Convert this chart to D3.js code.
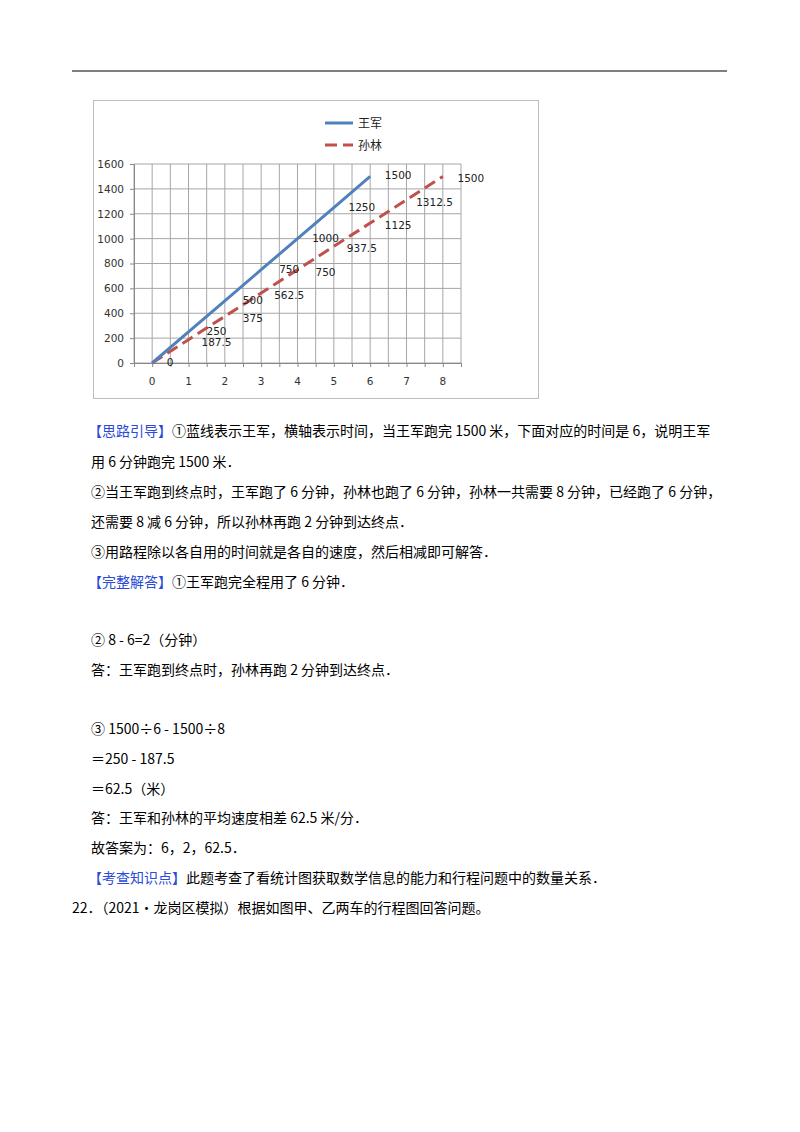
<!DOCTYPE html>
<html><head><meta charset="utf-8">
<script src="https://cdn.jsdelivr.net/npm/d3@7"></script>
<style>body{margin:0;background:#fff}</style>
</head><body><div id="page"></div>
<script>
// ── Data ──────────────────────────────────────────────
const wangTime = [0, 1, 2, 3, 4, 5, 6];
const wangDist = [0, 250, 500, 750, 1000, 1250, 1500];
const sunTime  = [0, 1, 2, 3, 4, 5, 6, 7, 8];
const sunDist  = [0, 187.5, 375, 562.5, 750, 937.5, 1125, 1312.5, 1500];
const xTicks = [0, 1, 2, 3, 4, 5, 6, 7, 8];
const yTicks = [0, 200, 400, 600, 800, 1000, 1200, 1400, 1600];
const seriesNames = ['王军', '孙林'];

const lines = [
  [{t:'【思路引导】', c:'#2a4bd7'}, {t:'①蓝线表示王军，横轴表示时间，当王军跑完 1500 米，下面对应的时间是 6，说明王军'}],
  [{t:'用 6 分钟跑完 1500 米．'}],
  [{t:'②当王军跑到终点时，王军跑了 6 分钟，孙林也跑了 6 分钟，孙林一共需要 8 分钟，已经跑了 6 分钟，'}],
  [{t:'还需要 8 减 6 分钟，所以孙林再跑 2 分钟到达终点．'}],
  [{t:'③用路程除以各自用的时间就是各自的速度，然后相减即可解答．'}],
  [{t:'【完整解答】', c:'#2a4bd7'}, {t:'①王军跑完全程用了 6 分钟．'}],
  [{t:'② 8 - 6=2（分钟）'}],
  [{t:'答：王军跑到终点时，孙林再跑 2 分钟到达终点．'}],
  [{t:'③ 1500÷6 - 1500÷8'}],
  [{t:'＝250 - 187.5'}],
  [{t:'＝62.5（米）'}],
  [{t:'答：王军和孙林的平均速度相差 62.5 米/分．'}],
  [{t:'故答案为：6，2，62.5．'}],
  [{t:'【考查知识点】', c:'#2a4bd7'}, {t:'此题考查了看统计图获取数学信息的能力和行程问题中的数量关系．'}],
  [{t:'22．（2021•龙岗区模拟）根据如图甲、乙两车的行程图回答问题。'}],
];
const lineY = [436, 467, 497, 527, 557, 587, 645, 675, 734, 764, 794, 823, 853, 883, 913];
const lineX = [88, 91, 91, 91, 91, 88, 91, 91, 91, 91, 91, 91, 91, 88, 72];

const svg = d3.select('#page').append('svg').attr('width', 800).attr('height', 1132);

svg.append('line').attr('x1', 72).attr('x2', 727).attr('y1', 71).attr('y2', 71)
  .attr('stroke', '#000').attr('stroke-width', 1.2);

// chart frame
svg.append('rect').attr('x', 93.5).attr('y', 100.5).attr('width', 445).attr('height', 298)
  .attr('fill', '#fff').attr('stroke', '#bdbdbd');

const x = d3.scaleLinear().domain([-0.5, 8.5]).range([134, 461]);
const y = d3.scaleLinear().domain([0, 1600]).range([363, 164]);

const g = svg.append('g');
const grid = d3.range(-0.5, 8.51, 0.5);
g.selectAll('.vg').data(grid).enter().append('line')
  .attr('x1', d => x(d)).attr('x2', d => x(d)).attr('y1', y(1600)).attr('y2', y(0))
  .attr('stroke', '#a6a6a6');
g.selectAll('.hg').data(yTicks).enter().append('line')
  .attr('x1', x(-0.5)).attr('x2', x(8.5)).attr('y1', d => y(d)).attr('y2', d => y(d))
  .attr('stroke', '#a6a6a6');

const xa = g.append('g').attr('transform', `translate(0,${y(0)})`)
  .call(d3.axisBottom(x).tickValues(grid).tickSize(4).tickFormat(''));
xa.selectAll('line, path').attr('stroke', '#888');
g.selectAll('.xl').data(xTicks).enter().append('text')
  .attr('x', d => x(d)).attr('y', 385).attr('text-anchor', 'middle')
  .attr('font-family', 'DejaVu Sans').attr('font-size', 10.5).attr('fill', '#333').text(d => d);
const ya = g.append('g').attr('transform', `translate(${x(-0.5)},0)`)
  .call(d3.axisLeft(y).tickValues(yTicks).tickSize(4).tickPadding(6).tickFormat(d3.format('d')));
ya.selectAll('line, path').attr('stroke', '#888');
ya.selectAll('text').attr('font-family', 'DejaVu Sans').attr('font-size', 10.5).attr('fill', '#333');

const line = d3.line().x(d => x(d[0])).y(d => y(d[1]));
const wang = wangTime.map((t, i) => [t, wangDist[i]]);
const sun = sunTime.map((t, i) => [t, sunDist[i]]);
g.append('path').attr('d', line(sun)).attr('fill', 'none').attr('stroke', '#c0504d')
  .attr('stroke-width', 3).attr('stroke-dasharray', '12,6');
g.append('path').attr('d', line(wang)).attr('fill', 'none').attr('stroke', '#4f81bd')
  .attr('stroke-width', 3);

const lbl = (data, dy) => g.selectAll(null).data(data).enter().append('text')
  .attr('x', d => x(d[0]) + (d[0] === 0 ? 18 : 28)).attr('y', d => y(d[1]) + dy)
  .attr('text-anchor', 'middle').attr('font-family', 'DejaVu Sans').attr('font-size', 10.5)
  .attr('fill', '#222').text(d => d[1]);
lbl(wang, 3); lbl(sun.slice(1), 6);

// legend
const lg = svg.append('g');
[['#4f81bd', null], ['#c0504d', '12,6']].forEach((s, i) => {
  const ly = 123 + i * 22;
  lg.append('line').attr('x1', 325).attr('x2', 353).attr('y1', ly).attr('y2', ly)
    .attr('stroke', s[0]).attr('stroke-width', 3).attr('stroke-dasharray', s[1]);
  lg.append('text').attr('x', 358).attr('y', ly + 5).attr('font-family', 'Noto Sans CJK SC')
    .attr('font-size', 12).attr('fill', '#222').text(seriesNames[i]);
});

// text
lines.forEach((parts, i) => {
  const t = svg.append('text').attr('x', lineX[i]).attr('y', lineY[i])
    .attr('font-family', "'Noto Sans CJK SC'").attr('font-size', 14).attr('fill', '#000');
  parts.forEach(p => t.append('tspan').attr('fill', p.c || '#000').text(p.t));
});
</script></body></html>
